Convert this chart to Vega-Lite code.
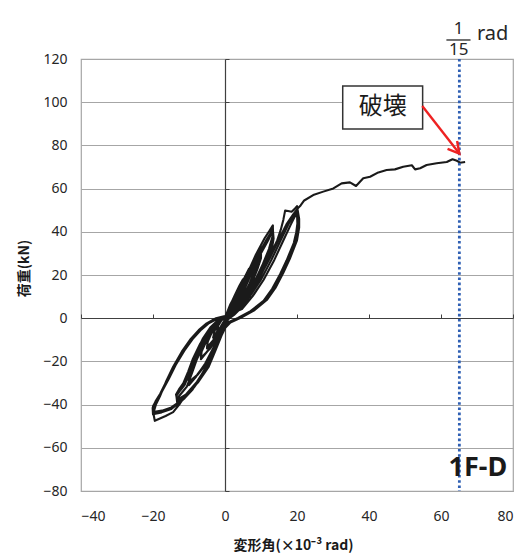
{
  "$schema": "https://vega.github.io/schema/vega-lite/v6.json",
  "width": 432,
  "height": 432,
  "autosize": {"type": "none"},
  "padding": {"left": 81, "top": 59, "right": 19, "bottom": 63},
  "background": "white",
  "config": {
    "view": {"stroke": "#a6a6a6", "strokeWidth": 1.2},
    "font": "Noto Sans"
  },
  "resolve": {"axis": {"x": "independent", "y": "independent"}},
  "layer": [
    {
      "data": {"values": [
        {"x":0,"y":0},{"x":1.1,"y":4.5},{"x":2.2,"y":8},{"x":1.8,"y":5},{"x":1,"y":2},{"x":0.3,"y":0},{"x":-0.5,"y":-2},{"x":-1.2,"y":-4},{"x":-2.2,"y":-6},{"x":-1.9,"y":-3.5},{"x":-1,"y":-1},
        {"x":0,"y":0.3},{"x":1.5,"y":6.5},{"x":3.3,"y":12},{"x":2.8,"y":7.5},{"x":1.6,"y":3},{"x":0.5,"y":0},{"x":-0.8,"y":-3},{"x":-2,"y":-6},{"x":-3.3,"y":-9},{"x":-2.8,"y":-5.5},{"x":-1.5,"y":-1.5},
        {"x":0,"y":0.5},{"x":1.3,"y":5.5},{"x":2.7,"y":10.5},{"x":4,"y":15},{"x":5,"y":18},{"x":4.8,"y":14.5},{"x":4,"y":10.5},{"x":2.8,"y":6},{"x":1.5,"y":2.5},{"x":0.5,"y":0},{"x":-0.8,"y":-4},{"x":-2,"y":-7.5},{"x":-3.5,"y":-11},{"x":-5,"y":-14},{"x":-4.8,"y":-11},{"x":-3.9,"y":-7.5},{"x":-2.6,"y":-3.8},{"x":-1.3,"y":-1},
        {"x":0,"y":0.5},{"x":1.6,"y":5.6},{"x":3,"y":10.5},{"x":4.3,"y":14.8},{"x":5,"y":17.4},{"x":4.8,"y":14.1},{"x":4,"y":10.2},{"x":2.8,"y":5.8},{"x":1.5,"y":2.4},{"x":0.5,"y":0},{"x":-0.8,"y":-3.9},{"x":-2,"y":-7.3},{"x":-3.5,"y":-10.7},{"x":-5,"y":-13.5},{"x":-4.8,"y":-10.7},{"x":-3.9,"y":-7.3},{"x":-2.6,"y":-3.7},{"x":-1.3,"y":-1},
        {"x":0,"y":0.5},{"x":1.7,"y":5.5},{"x":3.5,"y":12},{"x":5.2,"y":18},{"x":6.7,"y":23},{"x":6.6,"y":20},{"x":5.8,"y":15.5},{"x":4.5,"y":10},{"x":2.8,"y":4.5},{"x":1,"y":0.3},{"x":-1,"y":-5},{"x":-2.5,"y":-9.5},{"x":-4.5,"y":-14.5},{"x":-6.7,"y":-19},{"x":-6.5,"y":-15.5},{"x":-5.3,"y":-11},{"x":-3.8,"y":-6},{"x":-2,"y":-2},
        {"x":0,"y":0.5},{"x":2.1,"y":5.6},{"x":3.9,"y":12},{"x":5.6,"y":17.8},{"x":6.7,"y":22.3},{"x":6.6,"y":19.5},{"x":5.8,"y":15.2},{"x":4.5,"y":9.8},{"x":2.8,"y":4.4},{"x":1,"y":0.3},{"x":-0.8,"y":-4.9},{"x":-2.2,"y":-9.3},{"x":-4.2,"y":-14.2},{"x":-6.7,"y":-18.4},{"x":-6.7,"y":-15.1},{"x":-5.6,"y":-10.8},{"x":-4.1,"y":-5.9},{"x":-2.2,"y":-2},
        {"x":0,"y":0.5},{"x":2,"y":6},{"x":4,"y":13},{"x":6.3,"y":21},{"x":8.2,"y":27.5},{"x":10,"y":33},{"x":9.8,"y":29},{"x":8.6,"y":23.5},{"x":6.8,"y":16},{"x":4.6,"y":8.5},{"x":2.3,"y":3},{"x":0.5,"y":-0.5},{"x":-1.2,"y":-6},{"x":-3,"y":-13},{"x":-5.5,"y":-21},{"x":-8,"y":-27},{"x":-10,"y":-31},{"x":-10,"y":-28},{"x":-9,"y":-24},{"x":-7.5,"y":-17},{"x":-5.5,"y":-10},{"x":-3.5,"y":-4.5},{"x":-1.5,"y":-1},
        {"x":0,"y":0.5},{"x":2.5,"y":6.1},{"x":4.5,"y":13},{"x":6.8,"y":20.8},{"x":8.7,"y":27},{"x":10,"y":32},{"x":9.9,"y":28.3},{"x":8.8,"y":23},{"x":7,"y":15.8},{"x":4.8,"y":8.4},{"x":2.5,"y":3},{"x":0.7,"y":-0.5},{"x":-1,"y":-5.9},{"x":-2.8,"y":-12.8},{"x":-5.2,"y":-20.6},{"x":-7.8,"y":-26.4},{"x":-10,"y":-30},{"x":-10.2,"y":-27.2},{"x":-9.4,"y":-23.4},{"x":-7.9,"y":-16.7},{"x":-5.9,"y":-9.8},{"x":-3.9,"y":-4.4},{"x":-1.8,"y":-1},
        {"x":0,"y":0.5},{"x":3,"y":6.2},{"x":5,"y":13},{"x":7.2,"y":20.7},{"x":9,"y":26.7},{"x":10,"y":31.4},{"x":10,"y":27.8},{"x":9,"y":22.7},{"x":7.3,"y":15.6},{"x":5.1,"y":8.3},{"x":2.8,"y":3},{"x":0.9,"y":-0.5},{"x":-0.8,"y":-5.8},{"x":-2.6,"y":-12.7},{"x":-4.9,"y":-20.4},{"x":-7.5,"y":-26},{"x":-10,"y":-29.4},{"x":-10.3,"y":-26.8},{"x":-9.6,"y":-23},{"x":-8.2,"y":-16.5},{"x":-6.2,"y":-9.6},{"x":-4.1,"y":-4.3},{"x":-2,"y":-0.9},
        {"x":0,"y":0.5},{"x":2,"y":5},{"x":4,"y":12},{"x":6.3,"y":21},{"x":8.6,"y":29.5},{"x":11,"y":37},{"x":12.3,"y":40.3},{"x":13.3,"y":43},{"x":13.3,"y":38.5},{"x":12.2,"y":32},{"x":10.5,"y":25},{"x":8.8,"y":19},{"x":6.5,"y":11.5},{"x":4,"y":5.5},{"x":1.8,"y":1.5},{"x":0.3,"y":-0.5},{"x":-1.4,"y":-7},{"x":-3.2,"y":-14.5},{"x":-5.1,"y":-22},{"x":-7.2,"y":-28.2},{"x":-9,"y":-33},{"x":-11.2,"y":-37},{"x":-13.3,"y":-40},{"x":-13.2,"y":-37},{"x":-12,"y":-34.5},{"x":-10.6,"y":-31.7},{"x":-9.2,"y":-25.5},{"x":-7.9,"y":-19.4},{"x":-6,"y":-12.5},{"x":-4,"y":-7},{"x":-2,"y":-2.5},
        {"x":0,"y":0.5},{"x":2.5,"y":5.1},{"x":4.6,"y":12.1},{"x":6.9,"y":21},{"x":9.2,"y":29.3},{"x":11.6,"y":36.5},{"x":12.7,"y":39.4},{"x":13.3,"y":41.8},{"x":13.4,"y":37.6},{"x":12.6,"y":31.5},{"x":10.9,"y":24.7},{"x":9.2,"y":18.8},{"x":6.9,"y":11.4},{"x":4.4,"y":5.4},{"x":2.2,"y":1.5},{"x":0.6,"y":-0.5},{"x":-1.2,"y":-6.9},{"x":-3,"y":-14.4},{"x":-4.8,"y":-21.7},{"x":-7,"y":-27.8},{"x":-8.9,"y":-32.4},{"x":-11.1,"y":-36.1},{"x":-13.3,"y":-38.8},{"x":-13.5,"y":-36},{"x":-12.5,"y":-33.6},{"x":-11.2,"y":-30.9},{"x":-9.8,"y":-25},{"x":-8.5,"y":-19},{"x":-6.6,"y":-12.3},{"x":-4.5,"y":-6.9},{"x":-2.4,"y":-2.4},
        {"x":0,"y":0.5},{"x":3,"y":5.2},{"x":5.1,"y":12.2},{"x":7.4,"y":21},{"x":9.7,"y":29.1},{"x":12,"y":36.1},{"x":12.8,"y":38.8},{"x":13.3,"y":40.8},{"x":13.5,"y":36.9},{"x":12.9,"y":31},{"x":11.3,"y":24.4},{"x":9.6,"y":18.6},{"x":7.3,"y":11.3},{"x":4.8,"y":5.3},{"x":2.5,"y":1.5},{"x":0.8,"y":-0.5},{"x":-1,"y":-6.8},{"x":-2.8,"y":-14.3},{"x":-4.5,"y":-21.5},{"x":-6.7,"y":-27.5},{"x":-8.6,"y":-32},{"x":-10.9,"y":-35.4},{"x":-13.3,"y":-37.8},{"x":-13.6,"y":-35.3},{"x":-12.8,"y":-33},{"x":-11.6,"y":-30.2},{"x":-10.2,"y":-24.6},{"x":-8.9,"y":-18.7},{"x":-7,"y":-12.1},{"x":-4.9,"y":-6.8},{"x":-2.7,"y":-2.3},
        {"x":0,"y":0.8},{"x":3,"y":4},{"x":6,"y":10},{"x":9,"y":17.5},{"x":12,"y":27},{"x":13.5,"y":32.5},{"x":14.5,"y":36},{"x":15.5,"y":41},{"x":16.2,"y":45.5},{"x":16.7,"y":49.8},{"x":17.5,"y":49.6},{"x":18.5,"y":49.3},{"x":19.3,"y":50.5},{"x":20,"y":51.9},{"x":20.6,"y":46},{"x":20.6,"y":42},{"x":20,"y":36},{"x":18,"y":27.5},{"x":16.2,"y":21},{"x":14,"y":14},{"x":11.6,"y":8.4},{"x":8,"y":3.5},{"x":4.5,"y":0.3},{"x":1.5,"y":-2},{"x":-1.4,"y":-7},{"x":-3.2,"y":-14.5},{"x":-5.1,"y":-22.5},{"x":-7.8,"y":-29.5},{"x":-10.6,"y":-34.8},{"x":-12.5,"y":-39.5},{"x":-14.4,"y":-43.5},{"x":-16.5,"y":-45.3},{"x":-19.5,"y":-47.5},{"x":-19.9,"y":-44},{"x":-19.2,"y":-40},{"x":-18.1,"y":-36.3},{"x":-16.3,"y":-29},{"x":-14.4,"y":-22.5},{"x":-12,"y":-15.5},{"x":-9.7,"y":-10},{"x":-7.3,"y":-5.5},{"x":-5.1,"y":-2.4},{"x":-2.5,"y":0},
        {"x":0,"y":1},{"x":3.9,"y":4.1},{"x":6.9,"y":10.1},{"x":9.9,"y":17.6},{"x":12.9,"y":27},{"x":15.4,"y":35.8},{"x":17.6,"y":43.5},{"x":18.9,"y":47.2},{"x":20,"y":49.5},{"x":20.3,"y":44.5},{"x":20.1,"y":40.5},{"x":19.5,"y":35.3},{"x":17.5,"y":27},{"x":15.7,"y":20.6},{"x":13.5,"y":13.8},{"x":11.1,"y":8.2},{"x":7.5,"y":3.4},{"x":4,"y":0.2},{"x":1.1,"y":-2},{"x":-1.1,"y":-7.2},{"x":-2.9,"y":-14.7},{"x":-4.9,"y":-22.6},{"x":-7.6,"y":-29.5},{"x":-10.5,"y":-34.8},{"x":-12.6,"y":-39},{"x":-14.9,"y":-42},{"x":-17.6,"y":-43.6},{"x":-20,"y":-44.5},{"x":-20.1,"y":-41.5},{"x":-19.3,"y":-38.5},{"x":-18,"y":-35},{"x":-16,"y":-28.3},{"x":-14.1,"y":-22},{"x":-11.7,"y":-15.2},{"x":-9.4,"y":-9.8},{"x":-7,"y":-5.4},{"x":-4.8,"y":-2.3},{"x":-2.2,"y":0},
        {"x":0,"y":1},{"x":4.7,"y":4.2},{"x":7.7,"y":10.2},{"x":10.7,"y":17.7},{"x":13.7,"y":27},{"x":16.1,"y":35.6},{"x":18.2,"y":43.1},{"x":19.2,"y":46.5},{"x":20,"y":48.5},{"x":20.1,"y":43.8},{"x":19.8,"y":39.8},{"x":19.1,"y":34.8},{"x":17.1,"y":26.7},{"x":15.3,"y":20.4},{"x":13.1,"y":13.6},{"x":10.7,"y":8},{"x":7.1,"y":3.3},{"x":3.6,"y":0.1},{"x":0.8,"y":-2},{"x":-0.8,"y":-7.4},{"x":-2.6,"y":-14.8},{"x":-4.6,"y":-22.7},{"x":-7.4,"y":-29.5},{"x":-10.3,"y":-34.6},{"x":-12.5,"y":-38.5},{"x":-14.9,"y":-41.3},{"x":-17.5,"y":-42.8},{"x":-20,"y":-43.5},{"x":-20,"y":-40.8},{"x":-19,"y":-37.8},{"x":-17.7,"y":-34.5},{"x":-15.6,"y":-28},{"x":-13.7,"y":-21.7},{"x":-11.3,"y":-15},{"x":-9,"y":-9.7},{"x":-6.6,"y":-5.3},{"x":-4.4,"y":-2.2},{"x":-1.9,"y":0},
        {"x":0,"y":1},{"x":3.2,"y":4.3},{"x":6.3,"y":10.4},{"x":9.3,"y":18},{"x":12.3,"y":27.3},{"x":14.8,"y":36},{"x":17.2,"y":43.8},{"x":19,"y":48.2},{"x":20.3,"y":51},{"x":21,"y":52.2},{"x":22,"y":54.5},{"x":24.5,"y":57},{"x":27.3,"y":58.6},{"x":30.1,"y":60.1},{"x":32.4,"y":62.4},{"x":34.7,"y":62.9},{"x":36.4,"y":61.2},{"x":38.4,"y":64.8},{"x":40.3,"y":65.5},{"x":42.6,"y":67.5},{"x":44.9,"y":68.6},{"x":47.2,"y":68.9},{"x":49.5,"y":70.1},{"x":51.9,"y":70.8},{"x":52.8,"y":68.9},{"x":54.2,"y":69.4},{"x":56,"y":70.9},{"x":58.8,"y":71.7},{"x":61.6,"y":72.3},{"x":63.2,"y":73.6},{"x":64.4,"y":72.9},{"x":65.3,"y":72},{"x":66.7,"y":72.3}
      ]},
      "mark": {"type": "line", "color": "#1a1a1a", "strokeWidth": 2.1, "strokeJoin": "round"},
      "encoding": {
        "x": {"field": "x", "type": "quantitative",
          "scale": {"domain": [-40, 80], "nice": false, "zero": false},
          "axis": {"orient": "bottom", "values": [-40, -20, 0, 20, 40, 60, 80], "grid": false, "ticks": false, "domain": false,
            "labelFont": "Noto Sans", "labelFontSize": 14, "labelColor": "#262626", "labelPadding": 18,
            "title": "変形角(×10⁻³ rad)", "titleFont": "Noto Sans CJK JP", "titleFontSize": 14, "titleFontWeight": "bold", "titleColor": "#1a1a1a",
            "titleX": 212, "titleY": 54, "titleBaseline": "middle", "titleAlign": "center"}},
        "y": {"field": "y", "type": "quantitative",
          "scale": {"domain": [-80, 120], "nice": false, "zero": false},
          "axis": {"orient": "left", "values": [-80, -60, -40, -20, 0, 20, 40, 60, 80, 100, 120], "grid": true, "gridColor": "#a6a6a6", "gridWidth": 1.2,
            "ticks": false, "domain": false,
            "labelFont": "Noto Sans", "labelFontSize": 14, "labelColor": "#262626", "labelPadding": 14,
            "title": "荷重(kN)", "titleFont": "Noto Sans CJK JP", "titleFontSize": 14, "titleFontWeight": "bold", "titleColor": "#1a1a1a",
            "titleX": -57, "titleY": 209, "titleAngle": -90, "titleBaseline": "middle", "titleAlign": "center"}},
        "order": {"value": null}
      }
    },
    {
      "data": {"values": [{}]},
      "mark": {"type": "point", "opacity": 0},
      "encoding": {
        "x": {"datum": 0, "type": "quantitative",
          "axis": {"orient": "top", "offset": -259, "values": [-40, -20, 0, 20, 40, 60, 80], "labels": false, "grid": false,
            "ticks": true, "tickSize": 4, "tickColor": "#404040", "domain": true, "domainColor": "#404040", "domainWidth": 1.2, "title": null}},
        "y": {"datum": 0, "type": "quantitative",
          "axis": {"orient": "right", "offset": -288, "values": [-80, -60, -40, -20, 0, 20, 40, 60, 80, 100, 120], "labels": false, "grid": false,
            "ticks": true, "tickSize": 4, "tickColor": "#404040", "domain": true, "domainColor": "#404040", "domainWidth": 1.2, "title": null}}
      }
    },
    {
      "data": {"values": [{}]},
      "mark": {"type": "rule", "color": "#2f5fb3", "strokeWidth": 2.8, "strokeDash": [2.6, 2.6]},
      "encoding": {
        "x": {"datum": 65.1, "type": "quantitative", "axis": null}
      }
    },
    {
      "data": {"values": [{}]},
      "mark": {"type": "rect", "fill": "white", "stroke": "#333333", "strokeWidth": 1.5},
      "encoding": {
        "x": {"datum": 32.7, "type": "quantitative", "axis": null},
        "x2": {"datum": 54.9},
        "y": {"datum": 107.5, "type": "quantitative", "axis": null},
        "y2": {"datum": 87.6}
      }
    },
    {
      "data": {"values": [{"t": "破壊"}]},
      "mark": {"type": "text", "font": "Noto Sans CJK JP", "fontSize": 24, "color": "#1a1a1a", "align": "center", "baseline": "middle"},
      "encoding": {
        "x": {"datum": 43.8, "type": "quantitative", "axis": null},
        "y": {"datum": 97.6, "type": "quantitative", "axis": null},
        "text": {"field": "t"}
      }
    },
    {
      "data": {"values": [{}]},
      "mark": {"type": "rule", "color": "#ee2222", "strokeWidth": 2.4},
      "encoding": {
        "x": {"datum": 54.8, "type": "quantitative", "axis": null},
        "y": {"datum": 98.2, "type": "quantitative", "axis": null},
        "x2": {"datum": 65.1},
        "y2": {"datum": 76.2}
      }
    },
    {
      "data": {"values": [{}]},
      "mark": {"type": "point", "shape": "M-0.55,1 L0,0 L0.55,1", "size": 500, "angle": 141, "filled": false, "stroke": "#ee2222", "strokeWidth": 2.4, "opacity": 1},
      "encoding": {
        "x": {"datum": 65.1, "type": "quantitative", "axis": null},
        "y": {"datum": 76.2, "type": "quantitative", "axis": null}
      }
    },
    {
      "data": {"values": [{"t": "1F-D"}]},
      "mark": {"type": "text", "font": "Noto Sans", "fontWeight": "bold", "fontSize": 27, "color": "#1a1a1a", "align": "right", "baseline": "middle"},
      "encoding": {
        "x": {"datum": 78.4, "type": "quantitative", "axis": null},
        "y": {"datum": -69.5, "type": "quantitative", "axis": null},
        "text": {"field": "t"}
      }
    },
    {
      "data": {"values": [{"t": "1", "x": 64.9, "y": 133.9}, {"t": "15", "x": 64.9, "y": 124.3}]},
      "mark": {"type": "text", "font": "Noto Sans", "fontSize": 17, "color": "#262626", "align": "center", "baseline": "middle"},
      "encoding": {
        "x": {"field": "x", "type": "quantitative", "axis": null},
        "y": {"field": "y", "type": "quantitative", "axis": null},
        "text": {"field": "t"}
      }
    },
    {
      "data": {"values": [{"t": "rad"}]},
      "mark": {"type": "text", "font": "Noto Sans", "fontSize": 20, "color": "#262626", "align": "left", "baseline": "middle"},
      "encoding": {
        "x": {"datum": 70.0, "type": "quantitative", "axis": null},
        "y": {"datum": 131.4, "type": "quantitative", "axis": null},
        "text": {"field": "t"}
      }
    },
    {
      "data": {"values": [{}]},
      "mark": {"type": "rule", "color": "#262626", "strokeWidth": 1.3},
      "encoding": {
        "x": {"datum": 61.5, "type": "quantitative", "axis": null},
        "x2": {"datum": 68.2},
        "y": {"datum": 128.8, "type": "quantitative", "axis": null}
      }
    }
  ]
}
